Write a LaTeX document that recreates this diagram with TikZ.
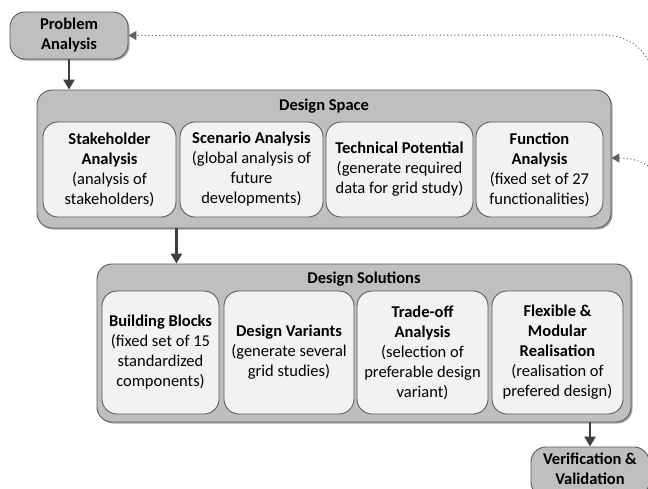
\documentclass[tikz,border=0pt]{standalone}
\usepackage{fontspec}
\setmainfont{Carlito}
\usetikzlibrary{arrows.meta,shadows}
\definecolor{outerfill}{HTML}{BFBFBF}
\definecolor{innerfill}{HTML}{F2F2F2}
\definecolor{edgecol}{HTML}{595959}
\definecolor{arrowcol}{HTML}{404040}
\definecolor{dotcol}{HTML}{606060}
\begin{document}
\begin{tikzpicture}[x=1pt,y=-1pt,
  every node/.style={font=\fontsize{16.5}{20}\selectfont, align=center, inner sep=0pt},
  outerbox/.style={draw=edgecol, line width=0.9pt, fill=outerfill, rounded corners=15pt,
    drop shadow={shadow xshift=1.5pt, shadow yshift=-1.5pt, opacity=0.35, fill=black}},
  innerbox/.style={draw=edgecol, line width=0.9pt, fill=innerfill, rounded corners=15pt},
  titletext/.style={font=\fontsize{16.5}{20}\selectfont\bfseries},
  solidarrow/.style={draw=arrowcol, line width=2.6pt, -{Triangle[length=10pt,width=11pt]}},
  fbarrow/.style={draw=dotcol, line width=1.4pt, line cap=round, dash pattern=on 0pt off 3.6pt,
    -{Triangle[length=8pt,width=9pt,line cap=butt]}}
]
\useasboundingbox (0,0) rectangle (648,488);

% Problem analysis
\node[outerbox, minimum width=118pt, minimum height=47pt] (PA) at (69,35.5)
  {\textbf{Problem}\\\textbf{Analysis}};

% Design space
\node[outerbox, minimum width=574pt, minimum height=138pt] (DS) at (324,159) {};
\node[titletext] (DSt) at (324,106) {Design Space};
\node[innerbox, minimum width=133pt, minimum height=95pt] (ds1) at (109.5,169.5)
  {\textbf{Stakeholder}\\\textbf{Analysis}\\(analysis of\\stakeholders)};
\node[innerbox, minimum width=143pt, minimum height=95pt] (ds2) at (251.5,169.5)
  {\textbf{Scenario Analysis}\\(global analysis of\\future\\developments)};
\node[innerbox, minimum width=147pt, minimum height=95pt] (ds3) at (399.5,169.5)
  {\textbf{Technical Potential}\\(generate required\\data for grid study)};
\node[innerbox, minimum width=127pt, minimum height=95pt] (ds4) at (539.5,169.5)
  {\textbf{Function}\\\textbf{Analysis}\\(fixed set of 27\\functionalities)};

% Design solutions
\node[outerbox, minimum width=534pt, minimum height=158pt] (DSol) at (364,343) {};
\node[titletext] (DSolt) at (364,279) {Design Solutions};
\node[innerbox, minimum width=117pt, minimum height=123pt] (so1) at (160.5,352.5)
  {\textbf{Building Blocks}\\(fixed set of 15\\standardized\\components)};
\node[innerbox, minimum width=130pt, minimum height=123pt] (so2) at (289,352.5)
  {\textbf{Design Variants}\\(generate several\\grid studies)};
\node[innerbox, minimum width=131pt, minimum height=123pt] (so3) at (422.5,352.5)
  {\textbf{Trade-off}\\\textbf{Analysis}\\(selection of\\preferable design\\variant)};
\node[innerbox, minimum width=131pt, minimum height=123pt] (so4) at (557.5,352.5)
  {\textbf{Flexible \&}\\\textbf{Modular}\\\textbf{Realisation}\\(realisation of\\prefered design)};

% Verification & validation
\node[outerbox, minimum width=118pt, minimum height=50pt] (VV) at (590,472) {};
\node (VVt) at (590,469) {\textbf{Verification \&}\\\textbf{Validation}};

% solid arrows
\draw[solidarrow] (PA.south) -- (PA.south |- DS.north);
\draw[solidarrow] (DS.south -| ds1.east) -- (ds1.east |- DSol.north);
\draw[solidarrow] (VV.north |- DSol.south) -- (VV.north);

% dotted feedback connectors (leaving the picture on the right)
\coordinate (fbA) at (655,130);
\coordinate (fbB) at (671,240);
\draw[fbarrow] (fbA) -- (655,85) .. controls (655,57.4) and (632.6,35) .. (605,35) -- (PA.east);
\draw[fbarrow] (fbB) -- (671,207) .. controls (671,179.4) and (648.6,158) .. (621,158) -- (DS.east |- 0,158);
\end{tikzpicture}
\end{document}
